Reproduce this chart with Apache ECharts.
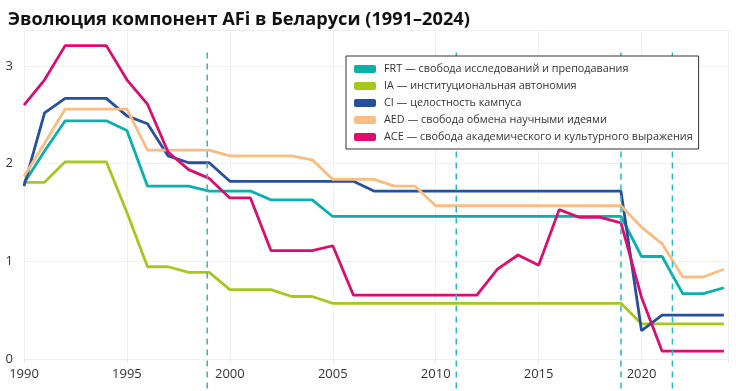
<!DOCTYPE html>
<html>
<head>
<meta charset="utf-8">
<script src="https://cdn.jsdelivr.net/npm/echarts@6/dist/echarts.min.js"></script>
<style>
html,body{margin:0;padding:0;background:#fff;}
#c{width:736px;height:391px;}
</style>
</head>
<body>
<div id="c"></div>
<script>
const years = [];
for (let y = 1990; y <= 2024; y++) years.push(y);

const seriesNames = [
  'FRT — свобода исследований и преподавания',
  'IA — институциональная автономия',
  'CI — целостность кампуса',
  'AED — свобода обмена научными идеями',
  'ACE — свобода академического и культурного выражения'
];

const FRT = [1.80,2.13,2.44,2.44,2.44,2.34,1.77,1.77,1.77,1.72,1.72,1.72,1.63,1.63,1.63,
  1.46,1.46,1.46,1.46,1.46,1.46,1.46,1.46,1.46,1.46,1.46,1.46,1.46,1.46,1.46,
  1.05,1.05,0.67,0.67,0.73];
const IA = [1.81,1.81,2.02,2.02,2.02,1.50,0.945,0.945,0.887,0.887,0.71,0.71,0.71,0.64,0.64,
  0.57,0.57,0.57,0.57,0.57,0.57,0.57,0.57,0.57,0.57,0.57,0.57,0.57,0.57,0.57,
  0.36,0.36,0.36,0.36,0.36];
const CI = [1.77,2.52,2.67,2.67,2.67,2.49,2.41,2.08,2.01,2.01,1.82,
  1.82,1.82,1.82,1.82,1.82,1.82,
  1.72,1.72,1.72,1.72,1.72,1.72,1.72,1.72,1.72,1.72,1.72,1.72,1.72,
  0.29,0.45,0.45,0.45,0.45];
const AED = [1.87,2.21,2.56,2.56,2.56,2.56,2.14,2.14,2.14,2.14,2.08,2.08,2.08,2.08,2.04,
  1.84,1.84,1.84,1.77,1.77,
  1.57,1.57,1.57,1.57,1.57,1.57,1.57,1.57,1.57,1.57,
  1.35,1.18,0.84,0.84,0.92];
const ACE = [2.60,2.86,3.21,3.21,3.21,2.86,2.61,2.12,1.94,1.85,1.65,1.65,1.11,1.11,1.11,1.16,
  0.655,0.655,0.655,0.655,0.655,0.655,0.655,
  0.92,1.065,0.96,1.53,1.45,1.45,1.395,
  0.63,0.08,0.08,0.08,0.08];

const eventYears = [1998.9, 2011, 2019, 2021.5];
const eventTop = 3.14;
const eventBottom = -0.33;
const xTicks = [1990, 1995, 2000, 2005, 2010, 2015, 2020];
const yTicks = [0, 1, 2, 3];

const colors = ['#0AB0AA', '#A6C81E', '#25509C', '#F9BD82', '#DB0E70'];
const allData = [FRT, IA, CI, AED, ACE];

const FONT = '"Open Sans", "Noto Sans", sans-serif';

const series = allData.map((arr, i) => ({
  name: seriesNames[i],
  type: 'line',
  data: years.map((yr, k) => [yr, arr[k]]),
  symbol: 'none',
  lineStyle: { width: 2.8, color: colors[i] },
  itemStyle: { color: colors[i] },
  z: 2
}));

const chart = echarts.init(document.getElementById('c'), null, { renderer: 'canvas' });
chart.setOption({
  animation: false,
  backgroundColor: '#fff',
  title: {
    text: 'Эволюция компонент AFi в Беларуси (1991–2024)',
    left: 3, top: 6,
    textStyle: { fontFamily: FONT, fontSize: 18.2, fontWeight: 'bold', color: '#111' }
  },
  legend: {
    orient: 'vertical',
    left: 346, top: 56,
    data: seriesNames,
    icon: 'roundRect',
    itemWidth: 22, itemHeight: 8,
    itemGap: 3,
    itemStyle: { borderWidth: 0 },
    padding: [6, 6, 5, 8],
    borderColor: '#333', borderWidth: 1,
    backgroundColor: '#fff',
    z: 20,
    textStyle: { fontFamily: FONT, fontSize: 10.8, lineHeight: 14, color: '#333', padding: [0, 0, 0, 3] }
  },
  grid: { left: 24, right: 8, top: 30, bottom: 32, containLabel: false },
  xAxis: {
    type: 'value',
    min: 1990, max: 2024.2,
    interval: 5,
    axisLine: { show: false },
    axisTick: { show: true, length: 4, lineStyle: { color: '#e6e6e6' } },
    splitLine: { show: true, lineStyle: { color: '#f0f0f0', width: 1 } },
    axisLabel: { margin: 9, fontFamily: FONT, fontSize: 13, color: '#333',
      formatter: v => (xTicks.indexOf(v) >= 0 ? String(v) : '') }
  },
  yAxis: {
    type: 'value',
    min: 0, max: 3.37,
    interval: 1,
    axisLine: { show: false },
    axisTick: { show: false },
    splitLine: { show: true, lineStyle: { color: '#f0f0f0', width: 1 } },
    axisLabel: { margin: 11, fontFamily: FONT, fontSize: 13, color: '#333',
      formatter: v => (yTicks.indexOf(v) >= 0 ? String(v) : '') }
  },
  series: series
});

// event lines positioned through the chart's own scales
const graphics = eventYears.map(x => {
  const p1 = chart.convertToPixel({ gridIndex: 0 }, [x, eventTop]);
  const p2 = chart.convertToPixel({ gridIndex: 0 }, [x, eventBottom]);
  return {
    type: 'line',
    silent: true,
    z: 5,
    shape: { x1: p1[0], y1: p1[1], x2: p2[0], y2: p2[1] },
    style: { stroke: '#2BB8BE', lineWidth: 1.5, lineDash: [6, 5] }
  };
});
chart.setOption({ graphic: graphics });
</script>
</body>
</html>
